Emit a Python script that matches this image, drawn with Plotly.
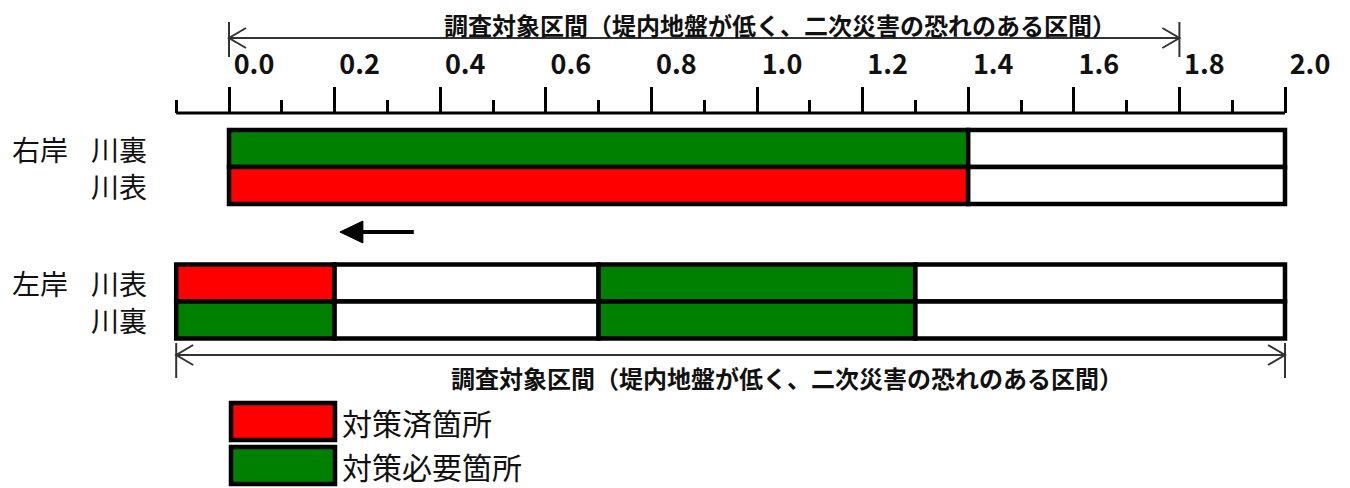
import plotly.graph_objects as go

# ---------------- data ----------------
major_ticks = [0.0, 0.2, 0.4, 0.6, 0.8, 1.0, 1.2, 1.4, 1.6, 1.8, 2.0]
major_labels = ["0.0", "0.2", "0.4", "0.6", "0.8", "1.0", "1.2", "1.4", "1.6", "1.8", "2.0"]
minor_ticks = [-0.1, 0.1, 0.3, 0.5, 0.7, 0.9, 1.1, 1.3, 1.5, 1.7, 1.9]

bank_labels = ["右岸", "左岸"]
row_labels = ["川裏", "川表", "川表", "川裏"]

right_bounds = [0.0, 1.4, 2.0]
left_bounds = [-0.1, 0.2, 0.7, 1.3, 2.0]
right_ura_status = ["need", "none"]
right_omote_status = ["done", "none"]
left_omote_status = ["done", "none", "need", "none"]
left_ura_status = ["need", "none", "need", "none"]

survey_right = [0.0, 1.8]
survey_left = [-0.1, 2.0]
survey_text = "調査対象区間（堤内地盤が低く、二次災害の恐れのある区間）"
flow_arrow = [0.35, 0.21]  # tail, head

legend_keys = ["done", "need"]
legend_text = ["対策済箇所", "対策必要箇所"]

# ---------------- style ----------------
OFF = 8                      # page body margin
W, H = 1350 - OFF, 488 - OFF
X0PX, PXU = 229, 528
FONT = "Noto Sans CJK JP"
COLORS = {"done": "#FF0000", "need": "#008000", "none": "#FFFFFF"}
BAR_H = 37
ROW_Y = [148.5, 185.5, 283, 320]
AXIS_Y = 113


def dx(px):
    return (px - X0PX) / PXU


fig = go.Figure()

rows = [
    (right_bounds, right_ura_status),
    (right_bounds, right_omote_status),
    (left_bounds, left_omote_status),
    (left_bounds, left_ura_status),
]
for (bounds, status), yc in zip(rows, ROW_Y):
    starts = bounds[:-1]
    lengths = [b - a for a, b in zip(bounds[:-1], bounds[1:])]
    fig.add_trace(go.Bar(
        orientation="h",
        y=[yc] * len(starts),
        x=lengths,
        base=starts,
        width=[BAR_H] * len(starts),
        marker=dict(color=[COLORS[s] for s in status],
                    line=dict(color="black", width=4.5)),
        showlegend=False,
        hoverinfo="skip",
    ))

shapes = []
# axis baseline
shapes.append(dict(type="line", xref="x", yref="y", x0=minor_ticks[0], x1=major_ticks[-1],
                   y0=AXIS_Y, y1=AXIS_Y, line=dict(color="black", width=3)))


def dimension(x0, x1, y, ytop, ybot):
    lc = dict(color="#333333", width=2)
    out = [dict(type="line", xref="x", yref="y", x0=x0, x1=x1, y0=y, y1=y, line=lc),
           dict(type="line", xref="x", yref="y", x0=x0, x1=x0, y0=ytop, y1=ybot, line=lc),
           dict(type="line", xref="x", yref="y", x0=x1, x1=x1, y0=ytop, y1=ybot, line=lc),
           dict(type="path", xref="x", yref="y", xsizemode="pixel", xanchor=x0,
                path=f"M17,{y-10} L0,{y} L17,{y+10}", line=lc),
           dict(type="path", xref="x", yref="y", xsizemode="pixel", xanchor=x1,
                path=f"M-17,{y-10} L0,{y} L-17,{y+10}", line=lc)]
    return out


shapes += dimension(survey_right[0], survey_right[1], 38, 22, 57)
shapes += dimension(survey_left[0], survey_left[1], 355, 343, 378)

# flow direction arrow
shapes.append(dict(type="line", xref="x", yref="y", x0=flow_arrow[0], x1=dx(X0PX + flow_arrow[1] * PXU + 18),
                   y0=232, y1=232, line=dict(color="black", width=4)))
shapes.append(dict(type="path", xref="x", yref="y", xsizemode="pixel", xanchor=flow_arrow[1],
                   path="M0,232 L23,221 L23,243 Z", fillcolor="black", line=dict(color="black", width=1)))

# legend boxes
for i, k in enumerate(legend_keys):
    y0 = 403 + i * 44
    shapes.append(dict(type="rect", xref="x", yref="y", x0=dx(231), x1=dx(335), y0=y0, y1=y0 + 37,
                       fillcolor=COLORS[k], line=dict(color="black", width=4.5)))

annotations = []
dim_font = dict(family=FONT, size=24, color="#111111", weight="bold")
annotations.append(dict(x=dx(780), y=24, xref="x", yref="y", text=survey_text, showarrow=False, font=dim_font))
annotations.append(dict(x=dx(787), y=377, xref="x", yref="y", text=survey_text, showarrow=False, font=dim_font))

lab_font = dict(family=FONT, size=28, color="#111111")
annotations.append(dict(x=dx(40), y=ROW_Y[0], xref="x", yref="y", text=bank_labels[0], showarrow=False, font=lab_font))
annotations.append(dict(x=dx(40), y=ROW_Y[2], xref="x", yref="y", text=bank_labels[1], showarrow=False, font=lab_font))
for lab, yc in zip(row_labels, ROW_Y):
    annotations.append(dict(x=dx(119), y=yc, xref="x", yref="y", text=lab, showarrow=False, font=lab_font))

leg_font = dict(family=FONT, size=30, color="#111111")
for i, t in enumerate(legend_text):
    annotations.append(dict(x=dx(340), y=422 + i * 44, xref="x", yref="y", text=t, showarrow=False,
                            xanchor="left", font=leg_font))

fig.update_layout(
    width=W, height=H,
    margin=dict(l=0, r=0, t=0, b=0),
    paper_bgcolor="white", plot_bgcolor="white",
    barmode="overlay",
    shapes=shapes,
    annotations=annotations,
    xaxis=dict(
        range=[dx(OFF), dx(1350)], domain=[0, 1],
        anchor="free", position=1 - (AXIS_Y - OFF) / H, side="top",
        showline=False, showgrid=False, zeroline=False,
        tickmode="array", tickvals=major_ticks, ticktext=major_labels,
        ticks="outside", ticklen=26, tickwidth=3, tickcolor="black",
        ticklabelshift=25, ticklabelstandoff=2,
        tickfont=dict(family=FONT, size=27, color="#111111", weight="bold"),
        minor=dict(tickmode="array", tickvals=minor_ticks, ticks="outside",
                   ticklen=13, tickwidth=3, tickcolor="black", showgrid=False),
        fixedrange=True,
    ),
    yaxis=dict(range=[488, OFF], domain=[0, 1], visible=False, showgrid=False, zeroline=False, fixedrange=True),
    showlegend=False,
)

fig.write_html("out.html")
